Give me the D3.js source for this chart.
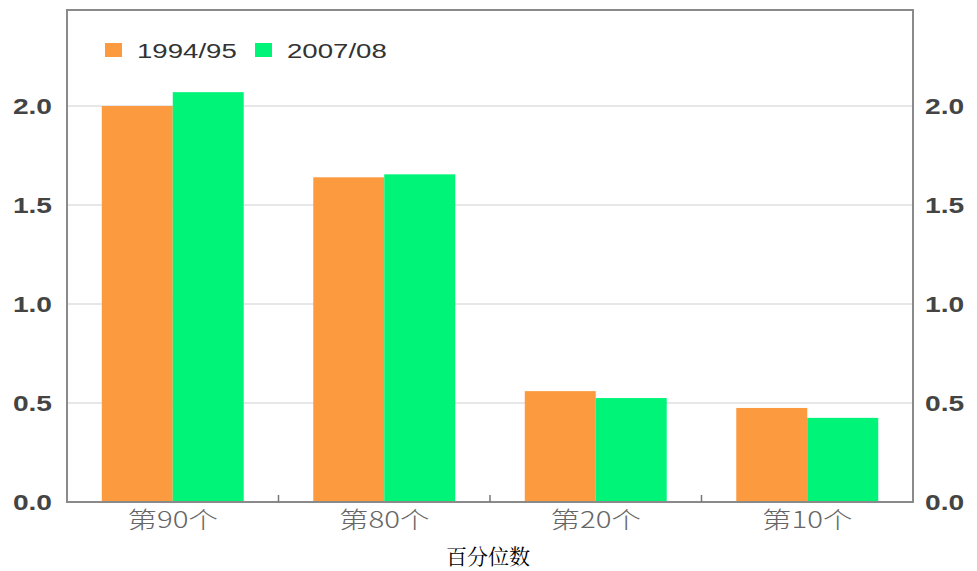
<!DOCTYPE html>
<html><head><meta charset="utf-8">
<script src="https://cdn.jsdelivr.net/npm/d3@7"></script>
<style>body{margin:0;background:#fff;}svg{display:block;}</style>
</head><body>
<svg id="c" width="977" height="571"></svg>
<script>
const categories = ["第90个", "第80个", "第20个", "第10个"];
const seriesNames = ["1994/95", "2007/08"];
const values1994 = [2.0, 1.64, 0.56, 0.475];
const values2007 = [2.07, 1.655, 0.525, 0.425];
const yTicks = [0, 0.5, 1.0, 1.5, 2.0];
const xTitle = "百分位数";
const colors = ["#FC9A40", "#00F578"];

const svg = d3.select("#c");
const m = {left: 67, right: 913, top: 10, bottom: 502};
const x = d3.scaleBand().domain(categories).range([m.left, m.right]).paddingInner(0).paddingOuter(0);
const xs = d3.scaleBand().domain(seriesNames).range([0, x.bandwidth()]).paddingInner(0).paddingOuter(0.49);
const y = d3.scaleLinear().domain([0, 2.485]).range([m.bottom, m.top]);

// gridlines
svg.append("g").selectAll("line").data(yTicks.filter(d => d > 0)).join("line")
  .attr("x1", m.left).attr("x2", m.right)
  .attr("y1", d => y(d)).attr("y2", d => y(d))
  .attr("stroke", "#cfcfcf").attr("stroke-width", 1.2);

const data = categories.map((c, i) => ({c, vals: [values1994[i], values2007[i]]}));
const g = svg.append("g").selectAll("g").data(data).join("g")
  .attr("transform", d => `translate(${x(d.c)},0)`);
g.selectAll("rect").data(d => d.vals.map((v, j) => ({v, s: seriesNames[j], j}))).join("rect")
  .attr("x", d => xs(d.s)).attr("width", xs.bandwidth())
  .attr("y", d => y(d.v)).attr("height", d => y(0) - y(d.v))
  .attr("fill", d => colors[d.j]);

// frame
svg.append("rect").attr("x", m.left).attr("y", m.top)
  .attr("width", m.right - m.left).attr("height", m.bottom - m.top)
  .attr("fill", "none").attr("stroke", "#8a8a8a").attr("stroke-width", 2);

// x axis
const xAxis = d3.axisBottom(x).tickSize(0).tickPadding(0);
const xg = svg.append("g").attr("transform", `translate(0,${m.bottom})`).call(xAxis);
xg.select(".domain").remove();
xg.selectAll("text").attr("font-family", "'Noto Sans CJK SC', sans-serif")
  .attr("font-size", 23).attr("font-weight", 300).attr("fill", "#666")
  .attr("y", 26).attr("dy", 0).attr("transform", "scale(1.28,1)");
svg.append("g").selectAll("line").data(categories.slice(1)).join("line")
  .attr("x1", d => x(d)).attr("x2", d => x(d))
  .attr("y1", m.bottom).attr("y2", m.bottom - 7)
  .attr("stroke", "#777").attr("stroke-width", 1.5);

// y axes
const yl = d3.axisLeft(y).tickValues(yTicks).tickFormat(d3.format(".1f")).tickSize(0);
const ylg = svg.append("g").attr("transform", `translate(${m.left},0)`).call(yl);
ylg.select(".domain").remove();
ylg.selectAll("text").attr("x", -15 / 1.28);
const yr = d3.axisRight(y).tickValues(yTicks).tickFormat(d3.format(".1f")).tickSize(0);
const yrg = svg.append("g").attr("transform", `translate(${m.right},0)`).call(yr);
yrg.select(".domain").remove();
yrg.selectAll("text").attr("x", 12 / 1.28);
[ylg, yrg].forEach(a => a.selectAll("text")
  .attr("font-family", "Arial, 'Liberation Sans', sans-serif")
  .attr("font-size", 22).attr("font-weight", "bold").attr("fill", "#444")
  .attr("transform", "scale(1.28,1)"));

// legend
const lg = svg.append("g");
const legX = [105, 255];
seriesNames.forEach((s, i) => {
  lg.append("rect").attr("x", legX[i]).attr("y", 43).attr("width", 17).attr("height", 14).attr("fill", colors[i]);
  lg.append("text").attr("x", 0).attr("y", 0)
    .attr("transform", `translate(${legX[i] + 32},57.5) scale(1.38,1)`)
    .attr("font-family", "Arial, 'Liberation Sans', sans-serif").attr("font-size", 20)
    .attr("fill", "#333").text(s);
});

// x title
svg.append("text").attr("x", 488).attr("y", 564).attr("text-anchor", "middle")
  .attr("font-family", "'Noto Serif CJK SC', serif, 'Noto Sans CJK SC'").attr("font-size", 21)
  .attr("fill", "#000").text(xTitle);
</script>
</body></html>
